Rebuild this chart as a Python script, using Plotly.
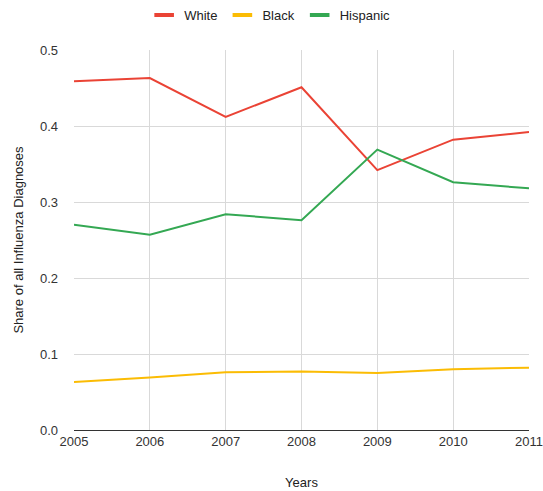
import plotly.graph_objects as go

years = [2005, 2006, 2007, 2008, 2009, 2010, 2011]
white = [0.459, 0.463, 0.412, 0.451, 0.342, 0.382, 0.392]
black = [0.063, 0.069, 0.076, 0.077, 0.075, 0.080, 0.082]
hispanic = [0.270, 0.257, 0.284, 0.276, 0.369, 0.326, 0.318]

series = [
    ("White", white, "#ea4335"),
    ("Black", black, "#fbbc04"),
    ("Hispanic", hispanic, "#34a853"),
]

fig = go.Figure()
for name, vals, color in series:
    fig.add_trace(go.Scatter(
        x=years, y=vals, name=name, mode="lines",
        line=dict(color=color, width=2), showlegend=False,
    ))
# legend entries drawn as short thick bars
for name, vals, color in series:
    fig.add_trace(go.Scatter(
        x=[None], y=[None], name=name, mode="markers",
        marker=dict(symbol="line-ew", size=14, color=color,
                    line=dict(color=color, width=4)),
    ))

fig.update_layout(
    width=543, height=491,
    margin=dict(l=74, r=14, t=50, b=61, autoexpand=False),
    paper_bgcolor="white", plot_bgcolor="white",
    font=dict(family="Liberation Sans, Arial, sans-serif", size=13, color="#444"),
    legend=dict(orientation="h", x=0.43, xanchor="center", y=1.092, yanchor="middle",
                font=dict(size=13, color="#222"), itemsizing="trace"),
    xaxis=dict(
        range=[2005, 2011], tickvals=years, ticktext=[str(y) for y in years],
        showgrid=True, gridcolor="#d9d9d9", gridwidth=1,
        zeroline=False, showline=False, ticks="", automargin=False,
        ticklabelstandoff=2,
        title=dict(text="Years", font=dict(size=13, color="#222"), standoff=29),
        tickfont=dict(size=13, color="#333"),
    ),
    yaxis=dict(
        range=[0, 0.5], tickvals=[0, 0.1, 0.2, 0.3, 0.4, 0.5],
        ticktext=["0.0", "0.1", "0.2", "0.3", "0.4", "0.5"],
        showgrid=True, gridcolor="#d9d9d9", gridwidth=1,
        zeroline=True, zerolinecolor="#333", zerolinewidth=1,
        showline=False, ticks="", automargin=False,
        ticklabelstandoff=15,
        title=dict(text="Share of all Influenza Diagnoses", font=dict(size=13, color="#222"), standoff=13),
        tickfont=dict(size=13, color="#333"),
    ),
)

fig.write_html("out.html")
